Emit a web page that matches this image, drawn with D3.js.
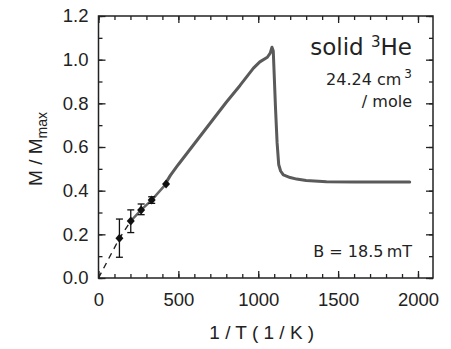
<!DOCTYPE html>
<html>
<head>
<meta charset="utf-8">
<script src="https://cdn.jsdelivr.net/npm/d3@7"></script>
<style>
body{margin:0;background:#fff;}
svg text{font-family:"Liberation Sans",Arial,sans-serif;fill:#222;}
.note{font-family:"DejaVu Sans",Verdana,sans-serif;}
</style>
</head>
<body>
<svg id="chart" width="451" height="349"></svg>
<script>
// measured curve M/Mmax vs 1/T
var curveX = [417, 450, 500, 600, 718, 800, 886, 970, 1010, 1057, 1075, 1086, 1094, 1100, 1108, 1118, 1128, 1140, 1157, 1200, 1240, 1300, 1427, 1600, 1800, 1948];
var curveY = [0.43, 0.47, 0.52, 0.615, 0.727, 0.805, 0.882, 0.961, 0.99, 1.011, 1.03, 1.057, 1.04, 0.93, 0.78, 0.62, 0.52, 0.49, 0.472, 0.46, 0.453, 0.447, 0.441, 0.44, 0.44, 0.44];

// points with error bars
var ptX = [131, 202, 267, 333, 423];
var ptY = [0.182, 0.261, 0.312, 0.357, 0.431];
var ptLo = [0.095, 0.208, 0.29, 0.342, 0.431];
var ptHi = [0.27, 0.312, 0.339, 0.372, 0.431];

// dashed extrapolation to origin
var dashX = [0, 131, 202];
var dashY = [0, 0.182, 0.261];

var xMajor = [0, 500, 1000, 1500, 2000];
var yMajor = [0.0, 0.2, 0.4, 0.6, 0.8, 1.0, 1.2];

var svg = d3.select("#chart");
var mLeft = 98.5, mRight = 433, mTop = 16, mBottom = 278;

var x = d3.scaleLinear().domain([0, 2094]).range([mLeft, mRight]);
var y = d3.scaleLinear().domain([0, 1.2]).range([mBottom, mTop]);

var xMinor = d3.range(0, 2100, 100);
var yMinor = d3.range(0, 13).map(function(i){ return i / 10; });

function tickStyle(g){
  g.select(".domain").remove();
  g.selectAll("line").attr("stroke", "#222").attr("stroke-width", 1.3);
  g.selectAll("text").style("font-size", "18.5px").attr("fill", "#222");
}

// bottom
svg.append("g").attr("transform", "translate(0," + mBottom + ")")
  .call(d3.axisBottom(x).tickValues(xMinor).tickSize(-4).tickFormat(""))
  .call(tickStyle);
svg.append("g").attr("transform", "translate(0," + mBottom + ")")
  .call(d3.axisBottom(x).tickValues(xMajor).tickSize(-7).tickPadding(15).tickFormat(d3.format("d")))
  .call(tickStyle);
// top
svg.append("g").attr("transform", "translate(0," + mTop + ")")
  .call(d3.axisTop(x).tickValues(xMinor).tickSize(-4).tickFormat(""))
  .call(tickStyle);
svg.append("g").attr("transform", "translate(0," + mTop + ")")
  .call(d3.axisTop(x).tickValues(xMajor).tickSize(-7).tickFormat(""))
  .call(tickStyle);
// left
svg.append("g").attr("transform", "translate(" + mLeft + ",0)")
  .call(d3.axisLeft(y).tickValues(yMinor).tickSize(-4).tickFormat(""))
  .call(tickStyle);
svg.append("g").attr("transform", "translate(" + mLeft + ",0)")
  .call(d3.axisLeft(y).tickValues(yMajor).tickSize(-7).tickPadding(10).tickFormat(d3.format(".1f")))
  .call(tickStyle);
// right
svg.append("g").attr("transform", "translate(" + mRight + ",0)")
  .call(d3.axisRight(y).tickValues(yMinor).tickSize(-4).tickFormat(""))
  .call(tickStyle);
svg.append("g").attr("transform", "translate(" + mRight + ",0)")
  .call(d3.axisRight(y).tickValues(yMajor).tickSize(-7).tickFormat(""))
  .call(tickStyle);

svg.append("rect")
  .attr("x", mLeft).attr("y", mTop)
  .attr("width", mRight - mLeft).attr("height", mBottom - mTop)
  .attr("fill", "none").attr("stroke", "#222").attr("stroke-width", 1.5);

// dashed line
var line = d3.line().x(function(d){ return x(d[0]); }).y(function(d){ return y(d[1]); });
svg.append("path")
  .datum(d3.zip(dashX, dashY))
  .attr("d", line)
  .attr("fill", "none").attr("stroke", "#222").attr("stroke-width", 1.4)
  .attr("stroke-dasharray", "6,5");

// gray line through points into curve
svg.append("path")
  .datum(d3.zip(ptX.slice(1), ptY.slice(1)))
  .attr("d", line)
  .attr("fill", "none").attr("stroke", "#666").attr("stroke-width", 2.5);

svg.append("path")
  .datum(d3.zip(curveX, curveY))
  .attr("d", line)
  .attr("fill", "none").attr("stroke", "#5a5a5a").attr("stroke-width", 3)
  .attr("stroke-linejoin", "round").attr("stroke-linecap", "round");

// error bars
var pts = d3.range(ptX.length).map(function(i){ return {x: ptX[i], y: ptY[i], lo: ptLo[i], hi: ptHi[i]}; });
var eb = svg.append("g").selectAll("g").data(pts.filter(function(d){ return d.hi - d.lo > 0.001; })).enter().append("g");
eb.append("line")
  .attr("x1", function(d){ return x(d.x); }).attr("x2", function(d){ return x(d.x); })
  .attr("y1", function(d){ return y(d.lo); }).attr("y2", function(d){ return y(d.hi); })
  .attr("stroke", "#111").attr("stroke-width", 1.3);
eb.append("line")
  .attr("x1", function(d){ return x(d.x) - 3.5; }).attr("x2", function(d){ return x(d.x) + 3.5; })
  .attr("y1", function(d){ return y(d.lo); }).attr("y2", function(d){ return y(d.lo); })
  .attr("stroke", "#111").attr("stroke-width", 1.3);
eb.append("line")
  .attr("x1", function(d){ return x(d.x) - 3.5; }).attr("x2", function(d){ return x(d.x) + 3.5; })
  .attr("y1", function(d){ return y(d.hi); }).attr("y2", function(d){ return y(d.hi); })
  .attr("stroke", "#111").attr("stroke-width", 1.3);

// diamonds
svg.append("g").selectAll("path").data(pts).enter().append("path")
  .attr("d", "M0,-4.5L4,0L0,4.5L-4,0Z")
  .attr("transform", function(d){ return "translate(" + x(d.x) + "," + y(d.y) + ")"; })
  .attr("fill", "#111");

// labels
svg.append("text")
  .attr("x", (mLeft + mRight) / 2 - 4).attr("y", 339)
  .attr("text-anchor", "middle").style("font-size", "19px")
  .text("1 / T ( 1 / K )");

var yt = svg.append("text")
  .attr("transform", "translate(42," + ((mTop + mBottom) / 2 + 2) + ") rotate(-90)")
  .attr("text-anchor", "middle").style("font-size", "19px");
yt.append("tspan").text("M / M");
yt.append("tspan").attr("dy", 5).style("font-size", "14px").text("max");

var t1 = svg.append("text").attr("class", "note")
  .attr("x", 412).attr("y", 55).attr("text-anchor", "end").style("font-size", "23px");
t1.append("tspan").text("solid ");
t1.append("tspan").attr("dy", -8).style("font-size", "15px").text("3");
t1.append("tspan").attr("dy", 8).text("He");

var t2 = svg.append("text").attr("class", "note")
  .attr("x", 412).attr("y", 85).attr("text-anchor", "end").style("font-size", "16px");
t2.append("tspan").text("24.24 cm");
t2.append("tspan").attr("dx", 3).attr("dy", -7).style("font-size", "12px").text("3");

svg.append("text").attr("class", "note")
  .attr("x", 412).attr("y", 107).attr("text-anchor", "end").style("font-size", "16px")
  .text("/ mole");

svg.append("text").attr("class", "note")
  .attr("x", 412).attr("y", 257).attr("text-anchor", "end").style("font-size", "16px")
  .text("B = 18.5\u2009mT");
</script>
</body>
</html>
